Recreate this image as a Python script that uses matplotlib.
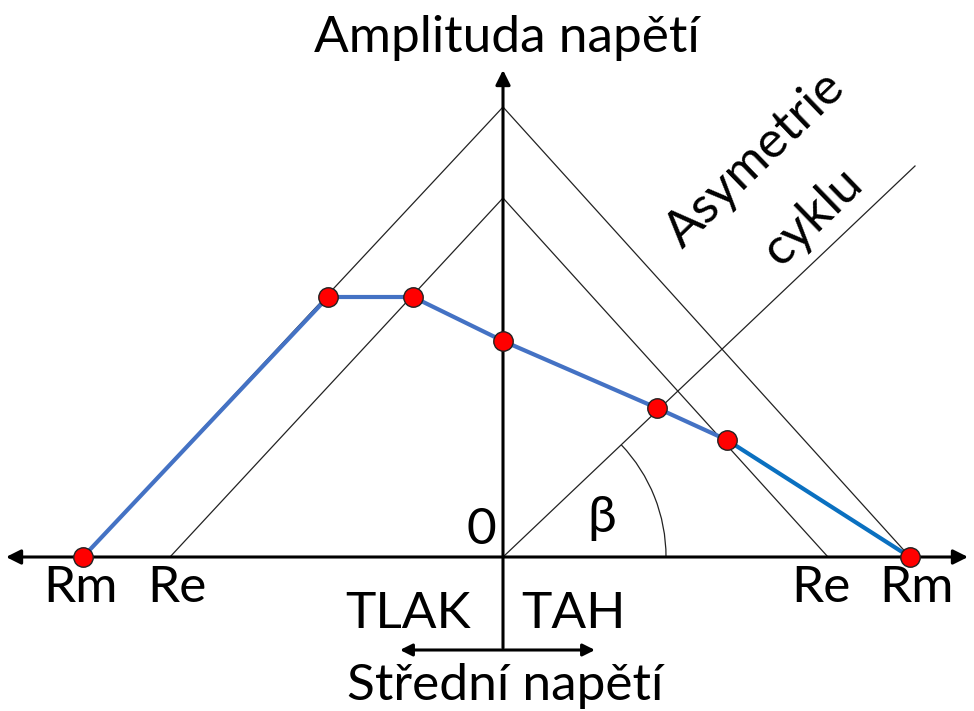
import numpy as np
import matplotlib.pyplot as plt
from matplotlib.patches import Arc

plt.rcParams['font.family'] = ['Lato', 'DejaVu Sans']

# Haigh diagram values (mean stress x, amplitude y), origin at 0
rm_left, rm_right, rm_amp = -420, 407, 450
re_left, re_right, re_amp = -333, 325, 359
asym_end = (412, 391)
beta_radius = 163

curve_x = [-420, -175, -90, 0, 154, 224, 407]
curve_y = [0, 260, 260, 216, 149, 117, 0]

labels_x = ['Rm', 'Re', 'Re', 'Rm']
labels_pos = [-422, -326, 318, 414]

fig = plt.figure(figsize=(9.74, 7.11), dpi=100)
ax = fig.add_axes([0, 0, 1, 1])
ax.set_xlim(-503, 471)
ax.set_ylim(-154, 557)
ax.axis('off')

thin = dict(color='#222222', lw=0.9)
# Rm triangle
ax.plot([rm_left, 0, rm_right], [0, rm_amp, 0], **thin)
# Re triangle
ax.plot([re_left, 0, re_right], [0, re_amp, 0], **thin)
# asymmetry line
ax.plot([0, asym_end[0]], [0, asym_end[1]], **thin)
# beta arc
ang = np.degrees(np.arctan2(asym_end[1], asym_end[0]))
ax.add_patch(Arc((0, 0), 2 * beta_radius, 2 * beta_radius, theta1=0, theta2=ang, color='#222222', lw=0.9))

# axes arrows
ax.annotate('', xy=(465, 0), xytext=(-497, 0),
            arrowprops=dict(arrowstyle='<|-|>', lw=2.2, color='black', mutation_scale=22, shrinkA=0, shrinkB=0))
ax.annotate('', xy=(0, 487), xytext=(0, -91),
            arrowprops=dict(arrowstyle='-|>', lw=2.2, color='black', mutation_scale=22, shrinkA=0, shrinkB=0))
ax.annotate('', xy=(92, -93), xytext=(-103, -93),
            arrowprops=dict(arrowstyle='<|-|>', lw=2.2, color='black', mutation_scale=18, shrinkA=0, shrinkB=0))

# limit curve
ax.plot(curve_x[:-1], curve_y[:-1], color='#4472C4', lw=3, zorder=3)
ax.plot(curve_x[-2:], curve_y[-2:], color='#0A70C0', lw=3, zorder=3)
ax.plot(curve_x, curve_y, 'o', ms=14, mfc='#FF0000', mec='#222222', mew=1, zorder=4)

fs = 37
for lab, x in zip(labels_x, labels_pos):
    ax.text(x, -31, lab, fontsize=fs, ha='center', va='center')
ax.text(-22, 27, '0', fontsize=fs, ha='center', va='center')
ax.text(99, 39, 'β', fontsize=fs, ha='center', va='center')
ax.text(-95, -57, 'TLAK', fontsize=fs, ha='center', va='center')
ax.text(71, -57, 'TAH', fontsize=fs, ha='center', va='center')
ax.text(2, -129, 'Střední napětí', fontsize=fs, ha='center', va='center')
ax.text(4, 519, 'Amplituda napětí', fontsize=fs, ha='center', va='center')
ax.text(252, 397, 'Asymetrie', fontsize=fs, ha='center', va='center', rotation=44, rotation_mode='anchor')
ax.text(310, 340, 'cyklu', fontsize=fs, ha='center', va='center', rotation=44, rotation_mode='anchor')

fig.savefig('out.png', dpi=100)
